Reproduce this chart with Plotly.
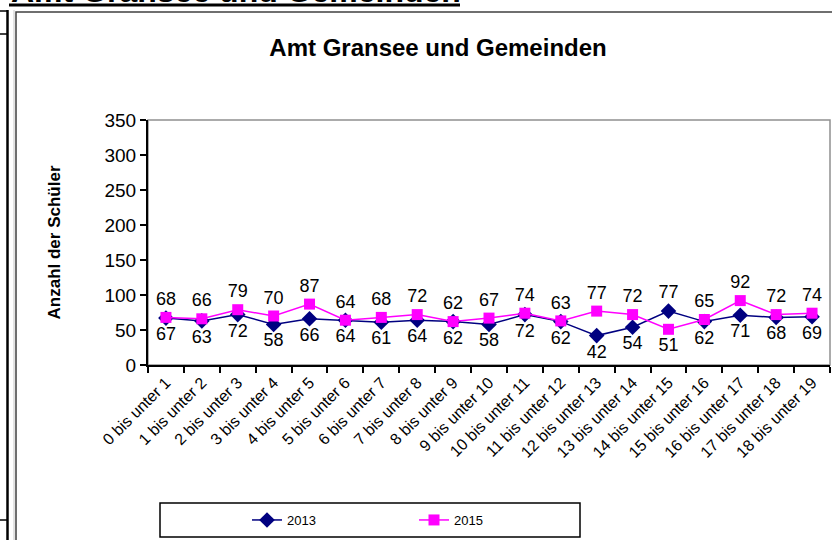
import plotly.graph_objects as go

# age groups on the x axis
categories = [f"{i} bis unter {i + 1}" for i in range(19)]

students_2013 = [67, 63, 72, 58, 66, 64, 61, 64, 62, 58, 72, 62, 42, 54, 77, 62, 71, 68, 69]
students_2015 = [68, 66, 79, 70, 87, 64, 68, 72, 62, 67, 74, 63, 77, 72, 51, 65, 92, 72, 74]

# where the value labels sit in the original (one swapped group)
pos_2013 = ["bottom center"] * 19
pos_2015 = ["top center"] * 19
pos_2013[14] = "top center"
pos_2015[14] = "bottom center"

FONT = "Arial, Liberation Sans, sans-serif"

W, H = 832, 540
L, R, T, B = 148, 2, 120, 175
PW, PH = W - L - R, H - T - B


def px_x(p):
    return (p - L) / PW


def px_y(p):
    return (H - B - p) / PH


fig = go.Figure()
fig.add_trace(go.Scatter(
    x=categories, y=students_2013, name="2013",
    mode="lines+markers+text",
    line=dict(color="#000080", width=1.5),
    marker=dict(symbol="diamond", size=12, color="#000080"),
    text=[str(v) for v in students_2013],
    textposition=pos_2013,
    textfont=dict(size=18, color="black", family=FONT),
))
fig.add_trace(go.Scatter(
    x=categories, y=students_2015, name="2015",
    mode="lines+markers+text",
    line=dict(color="#FF00FF", width=1.5),
    marker=dict(symbol="square", size=11, color="#FF00FF"),
    text=[str(v) for v in students_2015],
    textposition=pos_2015,
    textfont=dict(size=18, color="black", family=FONT),
))

shapes = [
    # plot area frame (grey top/right)
    dict(type="rect", xref="paper", yref="paper", x0=0, x1=1, y0=0, y1=1,
         line=dict(color="#909090", width=1.5), layer="below"),
    # chart object border
    dict(type="rect", xref="paper", yref="paper",
         x0=px_x(16), x1=px_x(900), y0=px_y(600), y1=px_y(12),
         line=dict(color="#404040", width=1.5)),
    # heading underline
    dict(type="line", xref="paper", yref="paper",
         x0=px_x(9), x1=px_x(460), y0=px_y(5), y1=px_y(5),
         line=dict(color="black", width=3)),
    # left page frame
    dict(type="line", xref="paper", yref="paper",
         x0=px_x(7.5), x1=px_x(7.5), y0=px_y(10), y1=px_y(545),
         line=dict(color="black", width=2.5)),
    dict(type="line", xref="paper", yref="paper",
         x0=px_x(14), x1=px_x(14), y0=px_y(10), y1=px_y(545),
         line=dict(color="#c8c8c8", width=1)),
    dict(type="line", xref="paper", yref="paper",
         x0=px_x(-2), x1=px_x(7), y0=px_y(11), y1=px_y(11),
         line=dict(color="black", width=1.5)),
    dict(type="line", xref="paper", yref="paper",
         x0=px_x(-2), x1=px_x(7), y0=px_y(34), y1=px_y(34),
         line=dict(color="black", width=1.5)),
    dict(type="line", xref="paper", yref="paper",
         x0=px_x(-2), x1=px_x(7), y0=px_y(520), y1=px_y(520),
         line=dict(color="black", width=1.5)),
    # legend box
    dict(type="rect", xref="paper", yref="paper",
         x0=px_x(160), x1=px_x(580), y0=px_y(537), y1=px_y(503),
         line=dict(color="black", width=1.5), fillcolor="white", layer="below"),
]

# page heading, mostly scrolled out of view in the original
fig.add_annotation(
    text="<b>Amt Gransee und Gemeinden</b>",
    xref="paper", yref="paper", x=px_x(9), y=px_y(11),
    xanchor="left", yanchor="bottom", showarrow=False,
    font=dict(size=32, color="black", family=FONT),
)

fig.update_layout(
    width=W, height=H,
    margin=dict(l=L, r=R, t=T, b=B, autoexpand=False),
    paper_bgcolor="white", plot_bgcolor="white",
    font=dict(family=FONT, color="black"),
    title=dict(
        text="<b>Amt Gransee und Gemeinden</b>",
        x=px_x(438), xanchor="center", y=1 - 48 / H, yanchor="middle",
        xref="paper", yref="container",
        font=dict(size=24, color="black", family=FONT),
    ),
    shapes=shapes,
    showlegend=True,
    legend=dict(
        orientation="h", x=px_x(247), y=px_y(520), xanchor="left", yanchor="middle",
        entrywidth=122, bgcolor="rgba(0,0,0,0)", borderwidth=0,
        font=dict(size=13, color="black", family=FONT),
    ),
    xaxis=dict(
        type="category", range=[-0.5, 18.5], tickson="boundaries",
        ticks="outside", ticklen=6, tickcolor="black", tickwidth=1.5,
        showline=True, linecolor="black", linewidth=2, showgrid=False,
        tickangle=-45, tickfont=dict(size=16, color="black", family=FONT),
    ),
    yaxis=dict(
        range=[0, 350], dtick=50, ticks="outside", ticklen=6,
        tickcolor="black", tickwidth=1.5,
        showline=True, linecolor="black", linewidth=2, showgrid=False,
        zeroline=False, tickfont=dict(size=19, color="black", family=FONT),
        title=dict(text="<b>Anzahl der Schüler</b>", standoff=40,
                   font=dict(size=17, color="black", family=FONT)),
    ),
)

# page has no body margin in the original screenshot
fig.write_html(
    "out.html",
    config={"displayModeBar": False},
    post_script="document.body.style.margin = '0';",
)
